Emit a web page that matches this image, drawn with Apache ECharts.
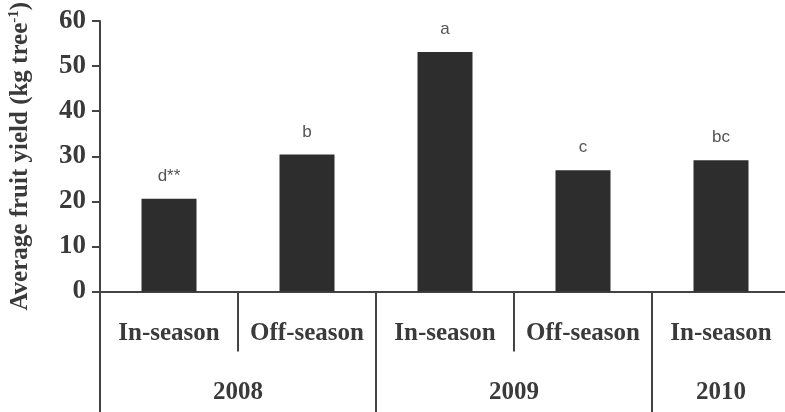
<!DOCTYPE html>
<html>
<head>
<meta charset="utf-8">
<script src="https://cdn.jsdelivr.net/npm/echarts@6/dist/echarts.min.js"></script>
<style>html,body{margin:0;padding:0;background:#fff}#c{width:785px;height:412px}</style>
</head>
<body>
<div id="c"></div>
<script>
// Data
const seasons = ['In-season', 'Off-season', 'In-season', 'Off-season', 'In-season'];
const yields = [20.6, 30.4, 53.1, 26.9, 29.1];
const letters = ['d**', 'b', 'a', 'c', 'bc'];
const years = ['2008', '2009', '2010'];
const yearSpans = [2, 2, 1];
const yTicks = [0, 10, 20, 30, 40, 50, 60];

// Build year axis on a half-category point grid
const yearPoints = [];
const longTickIdx = [0];
let pos = 0;
years.forEach((y, i) => {
  const n = yearSpans[i] * 2;
  for (let k = 0; k < n; k++) yearPoints.push(k === n / 2 ? y : '');
  pos += n;
  longTickIdx.push(pos);
});
yearPoints.push('');

const serif = '"Liberation Serif", "Times New Roman", serif';
const sans = '"Liberation Sans", Arial, sans-serif';
const textCol = '#3a3a3a';
const lineCol = '#444';

const chart = echarts.init(document.getElementById('c'));
chart.setOption({
  animation: false,
  backgroundColor: '#fff',
  grid: { left: 100, top: 21, width: 690, bottom: 120.5, containLabel: false, outerBoundsMode: 'none' },
  xAxis: [
    {
      type: 'category',
      data: seasons,
      position: 'bottom',
      boundaryGap: true,
      axisLine: { show: true, lineStyle: { color: lineCol, width: 2 } },
      axisTick: { show: true, length: 60, interval: 0, lineStyle: { color: lineCol, width: 2 } },
      axisLabel: { interval: 0, margin: 30, fontFamily: serif, fontWeight: 'bold', fontSize: 25, color: textCol },
      splitLine: { show: false }
    },
    {
      type: 'category',
      data: yearPoints,
      position: 'bottom',
      boundaryGap: false,
      axisLine: { show: false },
      axisTick: {
        show: true, length: 121,
        interval: (idx) => longTickIdx.includes(idx),
        lineStyle: { color: lineCol, width: 2 }
      },
      axisLabel: { interval: 0, margin: 89, fontFamily: serif, fontWeight: 'bold', fontSize: 25, color: textCol },
      splitLine: { show: false }
    }
  ],
  yAxis: {
    type: 'value',
    min: yTicks[0],
    max: yTicks[yTicks.length - 1],
    interval: 10,
    axisLine: { show: true, lineStyle: { color: lineCol, width: 2 } },
    axisTick: { show: true, length: 8, inside: false, lineStyle: { color: lineCol, width: 2 } },
    axisLabel: { margin: 14, fontFamily: serif, fontWeight: 'bold', fontSize: 27, color: textCol },
    splitLine: { show: false },
    name: 'Average fruit yield (kg tree{sup|-1})',
    nameLocation: 'middle',
    nameGap: 66,
    nameTextStyle: {
      fontFamily: serif, fontWeight: 'bold', fontSize: 25, color: textCol,
      rich: {
        sup: { fontFamily: serif, fontWeight: 'bold', fontSize: 15, color: textCol, verticalAlign: 'top', padding: [0, 0, 12, 0] }
      }
    }
  },
  series: [{
    type: 'bar',
    xAxisIndex: 0,
    data: yields,
    barWidth: 55,
    itemStyle: { color: '#2d2d2d' },
    label: {
      show: true,
      position: 'top',
      distance: 14,
      formatter: (p) => letters[p.dataIndex],
      fontFamily: sans,
      fontSize: 17,
      color: '#555'
    }
  }]
});
</script>
</body>
</html>
